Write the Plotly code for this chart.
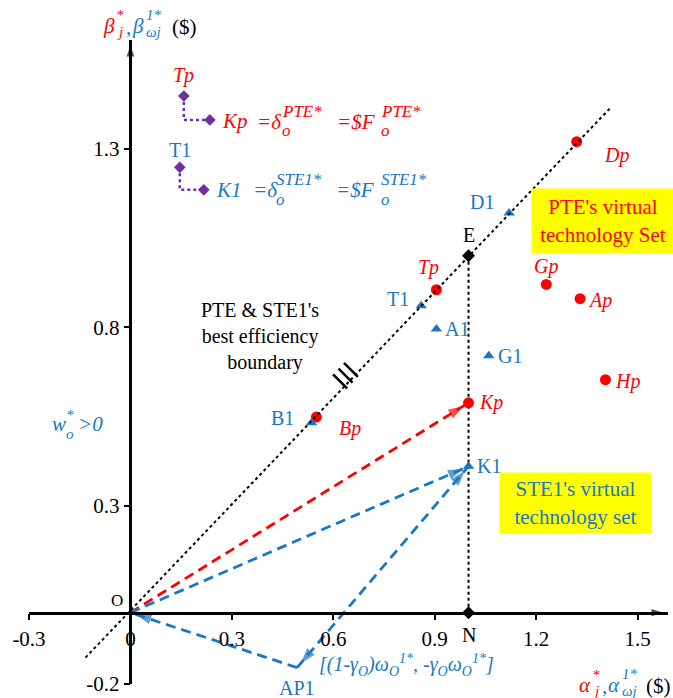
import math
import plotly.graph_objects as go

FONT = "Liberation Serif"
RED = "#ff0000"
BLUE = "#1a78c2"
PURPLE = "#7030a0"
BLACK = "#000000"
YELLOW = "#ffff00"

# ---------------- data ----------------
red_names = ["Dp", "Tp", "Gp", "Ap", "Hp", "Kp", "Bp"]
red_x = [1.32, 0.905, 1.23, 1.33, 1.405, 1.00, 0.55]
red_y = [1.32, 0.905, 0.92, 0.88, 0.653, 0.588, 0.548]

blue_names = ["D1", "T1", "A1", "G1", "K1", "B1", "AP1"]
blue_x = [1.12, 0.86, 0.905, 1.06, 1.00, 0.536, 0.493]
blue_y = [1.12, 0.86, 0.795, 0.72, 0.41, 0.532, -0.154]

black_names = ["E", "N"]
black_x = [1.0, 1.0]
black_y = [1.0, 0.0]

origin_x = [0.0]
origin_y = [0.0]

# best efficiency boundary (dotted diagonal)
diag_x = [-0.133, 1.42]
diag_y = [-0.126, 1.415]

# legend-like pairs (Tp -> Kp, T1 -> K1)
pte_leg_x = [0.158, 0.235]
pte_leg_y = [1.448, 1.381]
ste_leg_x = [0.146, 0.217]
ste_leg_y = [1.248, 1.185]

x_tickvals = [-0.3, 0, 0.3, 0.6, 0.9, 1.2, 1.5]
x_ticktext = ["-0.3", "0", "0.3", "0.6", "0.9", "1.2", "1.5"]
y_tickvals = [-0.2, 0.3, 0.8, 1.3]
y_ticktext = ["-0.2", "0.3", "0.8", "1.3"]

hash_t = [0.632, 0.648, 0.664]

X_RANGE = [-0.3, 1.59]
Y_RANGE = [-0.2, 1.605]

# ---------------- helpers ----------------
W, H = 673, 698
ML, MR, MT, MB = 29, 5, 40, 14
PW = W - ML - MR
PH = H - MT - MB
SX = PW / (X_RANGE[1] - X_RANGE[0])
SY = PH / (Y_RANGE[1] - Y_RANGE[0])


def PXF(px):
    return (px - ML) / PW


def PYF(py):
    return 1 - (py - MT) / PH


def pt(names, xs, ys, name):
    i = names.index(name)
    return xs[i], ys[i]


fig = go.Figure()

# purple legend paths
for lx, ly in [(pte_leg_x, pte_leg_y), (ste_leg_x, ste_leg_y)]:
    fig.add_trace(go.Scatter(
        x=[lx[0], lx[0], lx[1]], y=[ly[0], ly[1], ly[1]], mode="lines",
        line=dict(color=PURPLE, width=2.5, dash="dot"), hoverinfo="skip"))
    fig.add_trace(go.Scatter(
        x=[lx[0], lx[1]], y=[ly[0], ly[1]], mode="markers",
        marker=dict(symbol="diamond", size=9, color=PURPLE), hoverinfo="skip"))

# vertical dotted E -> N
ex, ey = pt(black_names, black_x, black_y, "E")
nx, ny = pt(black_names, black_x, black_y, "N")
fig.add_trace(go.Scatter(x=[ex, nx], y=[ey, ny], mode="lines",
                         line=dict(color=BLACK, width=2, dash="dot"), hoverinfo="skip"))

# dashed vectors
kpx, kpy = pt(red_names, red_x, red_y, "Kp")
k1x, k1y = pt(blue_names, blue_x, blue_y, "K1")
apx, apy = pt(blue_names, blue_x, blue_y, "AP1")
ox, oy = origin_x[0], origin_y[0]

vectors = [
    ((ox, oy), (kpx, kpy), RED),
    ((ox, oy), (k1x, k1y), BLUE),
    ((apx, apy), (k1x, k1y), BLUE),
    ((apx, apy), (ox, oy), BLUE),
    ((k1x, k1y), (apx, apy), BLUE),
]
for (sx, sy), (tx, ty), col in vectors[:4]:
    fig.add_trace(go.Scatter(x=[sx, tx], y=[sy, ty], mode="lines",
                             line=dict(color=col, width=2.8, dash="10px,6px"),
                             hoverinfo="skip"))


def arrow_head(sx, sy, tx, ty, col, size=16, back=6):
    # place an 'arrow' marker so that its tip sits near the target point
    dxp = (tx - sx) * SX
    dyp = (ty - sy) * SY
    L = math.hypot(dxp, dyp)
    ux, uy = dxp / L, dyp / L
    cx = tx - ux * back / SX
    cy = ty - uy * back / SY
    px_ = cx - ux * 20 / SX
    py_ = cy - uy * 20 / SY
    fig.add_trace(go.Scatter(
        x=[px_, cx], y=[py_, cy], mode="markers", cliponaxis=False,
        marker=dict(symbol="arrow", size=[0, size], color=col,
                    angleref="previous", line=dict(width=0)),
        hoverinfo="skip"))


for (sx, sy), (tx, ty), col in vectors:
    arrow_head(sx, sy, tx, ty, col)

# points
fig.add_trace(go.Scatter(x=red_x, y=red_y, mode="markers",
                         marker=dict(symbol="circle", size=11, color=RED), hoverinfo="skip"))
bx = [v for n, v in zip(blue_names, blue_x) if n != "AP1"]
by = [v for n, v in zip(blue_names, blue_y) if n != "AP1"]
fig.add_trace(go.Scatter(x=bx, y=by, mode="markers",
                         marker=dict(symbol="triangle-up", size=10, color=BLUE), hoverinfo="skip"))
fig.add_trace(go.Scatter(x=black_x, y=black_y, mode="markers",
                         marker=dict(symbol="diamond", size=10, color=BLACK), hoverinfo="skip"))

# diagonal boundary (drawn over the markers)
fig.add_trace(go.Scatter(x=diag_x, y=diag_y, mode="lines",
                         line=dict(color=BLACK, width=2, dash="dot"), hoverinfo="skip"))

# axis arrow heads
arrow_head(X_RANGE[1] - 0.1, 0, X_RANGE[1], 0, BLACK, size=12, back=5)
arrow_head(0, Y_RANGE[1] - 0.1, 0, Y_RANGE[1], BLACK, size=12, back=5)

annotations = []


def label(x, y, text, color, dx=0, dy=0, size=20, italic=False, xanchor="center",
          yanchor="middle"):
    t = f"<i>{text}</i>" if italic else text
    annotations.append(dict(x=x, y=y, xref="x", yref="y", text=t, showarrow=False,
                            xshift=dx, yshift=dy, xanchor=xanchor, yanchor=yanchor,
                            font=dict(family=FONT, size=size, color=color)))


def txt(px, py, text, color, size=21, italic=False, xanchor="left", height=None):
    t = f"<i>{text}</i>" if italic else text
    a = dict(x=PXF(px), y=PYF(py), xref="paper", yref="paper", text=t,
             showarrow=False, xanchor=xanchor, yanchor="middle", borderpad=0,
             font=dict(family=FONT, size=size, color=color))
    if height:
        a["height"] = height
    annotations.append(a)


def script(px, py, text, color, size=17, compact=True):
    # small super/sub-script piece
    txt(px, py, text, color, size, True, height=(size - 2) if compact else None)


red_off = {"Dp": (40, -14), "Tp": (-8, 22), "Gp": (0, 18), "Ap": (20, -2),
           "Hp": (22, -2), "Kp": (22, 0), "Bp": (34, -11)}
for n, x, y in zip(red_names, red_x, red_y):
    dx, dy = red_off[n]
    label(x, y, n, RED, dx, dy, italic=True)

blue_off = {"D1": (-27, 11), "T1": (-23, 7), "A1": (21, 0), "G1": (21, 0),
            "K1": (20, 0), "B1": (-29, 5), "AP1": (0, -20)}
for n, x, y in zip(blue_names, blue_x, blue_y):
    dx, dy = blue_off[n]
    label(x, y, n, BLUE, dx, dy)

black_off = {"E": (0, 21), "N": (0, -22)}
for n, x, y in zip(black_names, black_x, black_y):
    dx, dy = black_off[n]
    label(x, y, n, BLACK, dx, dy)

label(ox, oy, "O", BLACK, -13, 12, size=17)

# legend labels
label(pte_leg_x[0], pte_leg_y[0], "Tp", RED, 0, 21, italic=True)
label(ste_leg_x[0], ste_leg_y[0], "T1", BLUE, 0, 17)
label(pte_leg_x[1], pte_leg_y[1], "Kp", RED, 10, -1, size=21, italic=True, xanchor="left")
label(ste_leg_x[1], ste_leg_y[1], "K1", BLUE, 10, 0, size=21, italic=True, xanchor="left")

# stacked super/sub-script formulas
txt(256, 122, "=δ", RED, 21, True)
script(281, 111, "PTE*", RED)
script(281, 130, "o", RED)
txt(336, 122, "=$F", RED, 21, True)
script(380, 111, "PTE*", RED)
script(380, 130, "o", RED)

txt(252, 190, "=δ", BLUE, 21, True)
script(275, 180, "STE1*", BLUE)
script(275, 199, "o", BLUE)
txt(335, 190, "=$F", BLUE, 21, True)
script(380, 180, "STE1*", BLUE)
script(380, 199, "o", BLUE)

# w_o^* > 0
txt(51, 424, "w", BLUE, 21, True)
script(65, 414, "*", BLUE, 15)
script(65, 433, "o", BLUE, 15)
txt(77, 424, "&gt;0", BLUE, 21, True)

# y-axis title (top)
txt(102, 26, "β", RED, 21, True)
script(115, 15, "*", RED, 15, compact=False)
script(116, 32, "j", RED, 15, compact=False)
txt(125, 27, ",", BLUE, 21, True)
txt(131, 26, "β", BLUE, 21, True)
script(145, 15, "1*", BLUE, 15, compact=False)
script(145, 32, "ωj", BLUE, 15, compact=False)
txt(171, 27, "($)", BLACK, 21)

# x-axis title (bottom right)
L0 = 578
txt(L0, 685, "α", RED, 21, True)
script(L0 + 13, 675, "*", RED, 15, compact=False)
script(L0 + 14, 691, "j", RED, 15, compact=False)
txt(L0 + 23, 686, ",", BLUE, 21, True)
txt(L0 + 29, 685, "α", BLUE, 21, True)
script(L0 + 43, 674, "1*", BLUE, 15, compact=False)
script(L0 + 43, 691, "ωj", BLUE, 15, compact=False)
txt(L0 + 67, 686, "($)", BLACK, 21)

# free text
txt(260, 336, "PTE &amp; STE1's<br>best efficiency<br>\u00a0\u00a0boundary", BLACK, 20,
    xanchor="center")
txt(318, 665,
    "[(1-γ<sub>O</sub>)ω<sub>O</sub><sup>1*</sup>, -γ<sub>O</sub>ω<sub>O</sub><sup>1*</sup>]",
    BLUE, 20, True)

# yellow boxes
annotations.append(dict(x=PXF(603), y=PYF(221), xref="paper", yref="paper", showarrow=False,
                        xanchor="center", yanchor="middle",
                        text="PTE's virtual<br>technology Set", bgcolor=YELLOW,
                        width=140, height=62, align="center",
                        font=dict(family=FONT, size=21, color=RED)))
annotations.append(dict(x=PXF(575), y=PYF(503), xref="paper", yref="paper", showarrow=False,
                        xanchor="center", yanchor="middle",
                        text="STE1's virtual<br>technology set", bgcolor=YELLOW,
                        width=149, height=58, align="center",
                        font=dict(family=FONT, size=21, color=BLUE)))

# hash marks on the boundary
shapes = []
for t in hash_t:
    y0 = t + 0.005
    shapes.append(dict(type="line", xref="x", yref="y",
                       x0=t + 3 / SX, y0=y0 - 3 / SY, x1=t - 11 / SX, y1=y0 + 11 / SY,
                       line=dict(color=BLACK, width=2.5)))

axis_common = dict(
    anchor="free", showline=True, linecolor=BLACK, linewidth=2.5,
    ticks="outside", ticklen=6, tickwidth=2, tickcolor=BLACK,
    tickfont=dict(family=FONT, size=21, color=BLACK),
    showgrid=False, zeroline=False, fixedrange=True, automargin=False,
)

fig.update_layout(
    template="none",
    width=W, height=H, autosize=False,
    margin=dict(l=ML, r=MR, t=MT, b=MB, pad=0),
    paper_bgcolor="white", plot_bgcolor="white",
    showlegend=False,
    annotations=annotations,
    shapes=shapes,
    font=dict(family=FONT, size=20, color=BLACK),
    xaxis=dict(range=X_RANGE, position=(0 - Y_RANGE[0]) / (Y_RANGE[1] - Y_RANGE[0]),
               tickvals=x_tickvals, ticktext=x_ticktext, **axis_common),
    yaxis=dict(range=Y_RANGE, position=(0 - X_RANGE[0]) / (X_RANGE[1] - X_RANGE[0]),
               tickvals=y_tickvals, ticktext=y_ticktext, **axis_common),
)

fig.write_html(
    "out.html",
    config={"displayModeBar": False},
    post_script="document.body.style.margin='0';document.body.style.overflow='hidden';",
)
